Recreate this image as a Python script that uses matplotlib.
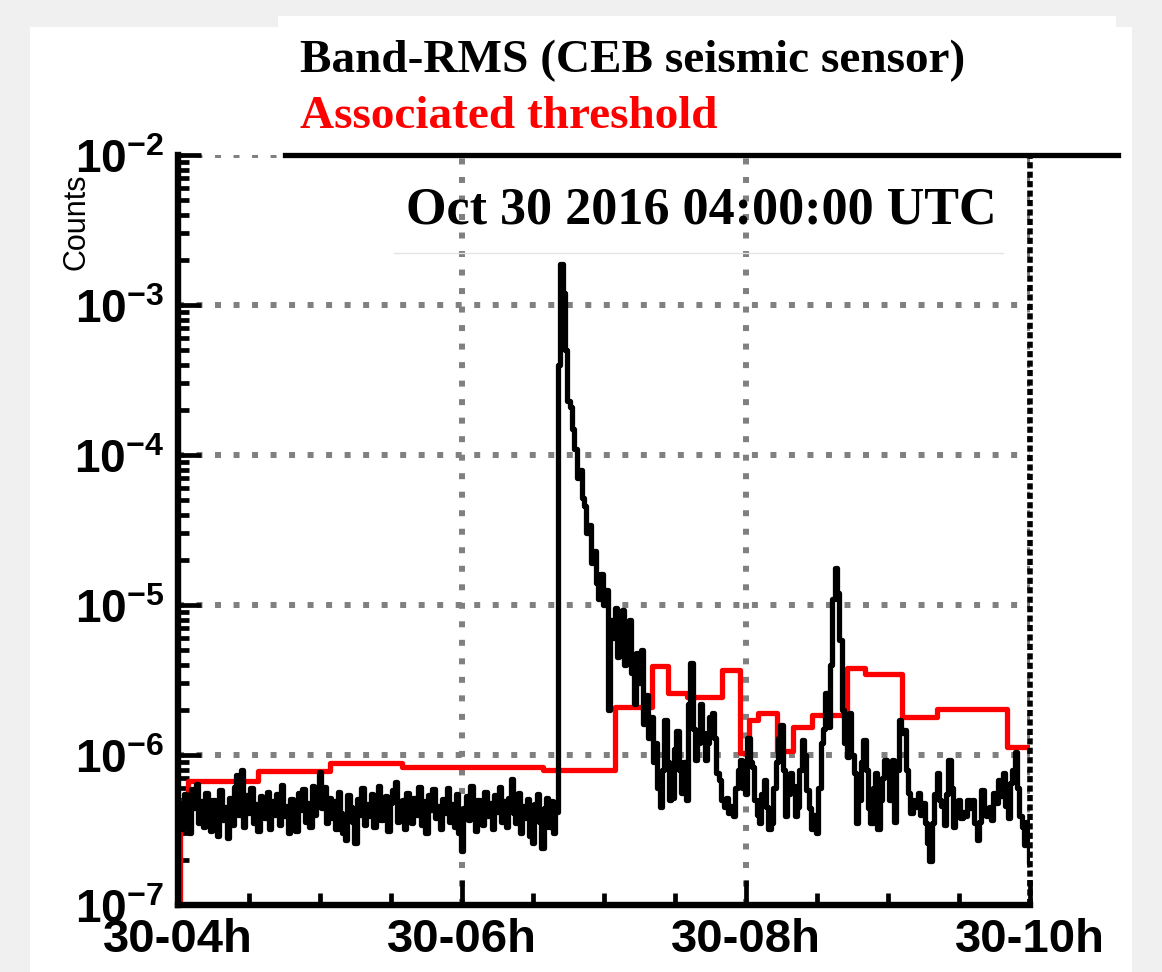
import numpy as np
import matplotlib.pyplot as plt
from matplotlib.patches import Rectangle
from matplotlib.lines import Line2D
from matplotlib.ticker import FixedLocator, NullFormatter

plt.rcParams['mathtext.fontset'] = 'custom'
plt.rcParams['mathtext.rm'] = 'Liberation Sans:bold'
plt.rcParams['mathtext.bf'] = 'Liberation Sans:bold'
plt.rcParams['mathtext.it'] = 'Liberation Sans:bold'

#==============================================================================
# data : band-RMS, 1 valeur par minute de 04:00 a 10:00 UTC (unite 1e-7 counts)
#==============================================================================
rms_e7 = [
    # 04:00 - 06:40 (bruit de fond)
    3.6, 4.8, 3.2, 5.5, 4.1, 3.0, 5.9, 4.4, 6.4, 3.5,
    4.9, 3.3, 5.6, 4.2, 3.1, 5.0, 4.6, 2.9, 5.8, 3.7,
    4.5, 2.8, 5.2, 3.4, 6.1, 7.4, 4.0, 7.9, 3.3, 5.4,
    4.1, 6.0, 3.5, 4.7, 3.1, 5.3, 4.4, 3.8, 5.7, 3.2,
    4.9, 4.0, 5.5, 3.4, 6.3, 3.9, 4.6, 3.0, 5.1, 4.2,
    3.1, 5.6, 4.3, 5.9, 3.6, 4.8, 3.3, 6.2, 4.0, 5.0,
    7.7, 4.4, 6.1, 3.5, 5.2, 3.8, 4.9, 3.2, 5.7, 4.1,
    3.0, 2.7, 5.4, 4.5, 3.6, 2.6, 5.1, 4.0, 6.0, 3.4,
    4.7, 3.9, 5.5, 3.3, 4.6, 6.2, 3.7, 4.3, 5.3, 3.1,
    4.8, 5.8, 6.6, 3.6, 4.2, 5.0, 3.2, 5.6, 4.4, 3.5,
    5.2, 4.0, 6.1, 3.4, 4.9, 3.0, 5.4, 4.3, 5.9, 3.8,
    4.6, 3.2, 5.1, 4.1, 6.0, 3.6, 4.7, 3.3, 5.5, 3.0,
    2.3, 4.4, 5.3, 3.7, 6.2, 4.0, 3.1, 5.0, 4.5, 3.4,
    5.7, 3.9, 4.8, 3.2, 5.4, 4.2, 6.1, 3.6, 4.9, 3.3,
    5.2, 6.9, 4.1, 3.5, 5.6, 3.0, 4.6, 3.8, 5.1, 2.9,
    2.6, 4.7, 5.5, 3.6, 2.4, 4.4, 5.2, 3.3, 4.9, 3.0, 4.2,
    # 06:41 - seisme
    4000, 18900, 12000, 5000, 2300, 2100, 1500, 1100, 700, 800,
    520, 460, 300, 340, 190, 230, 140, 110, 160, 100,
    125, 20, 80, 60, 95, 45, 70, 92, 40, 65,
    80, 35, 22, 48, 30, 50, 16, 25, 13, 18,
    9, 12, 6, 4.5, 8, 17, 9, 5, 5.2, 11,
    14.5, 8, 5.6, 9, 5.0, 22, 41, 15, 9.3, 12,
    22, 14, 9.3, 12, 18, 19, 13, 7.6, 6.8, 5.0,
    4.5, 5.2, 4.1, 4.6, 3.9, 6, 8, 9.3, 6, 5.5,
    13, 9, 8.3, 5, 4, 3.5, 5.5, 6.8, 4.5, 3.2,
    3.5, 6, 9, 13, 15.8, 8, 3.9, 5.5, 7.6, 6.2,
    3.9, 4.5, 8, 12.6, 10, 5.8, 4.4, 3.2, 4, 3.0,
    6, 12, 15, 26, 15.4, 40, 110, 177, 120, 58,
    20, 12, 9.7, 19, 10, 7.6, 3.5, 5, 9, 12.6,
    8, 4.4, 3.5, 6, 7.6, 3.2, 5, 7, 9.3, 7.6,
    5, 9.3, 3.6, 8, 17, 14, 14.7, 8, 5.6, 4.1,
    5, 4.5, 5.6, 4, 4.8, 3.5, 2.6, 1.95, 3.5, 5.5,
    7.6, 5, 4.6, 3.4, 5.5, 9.3, 6, 3.3, 4.5, 5,
    3.8, 4.2, 3.9, 5, 4.4, 5, 3.5, 2.7, 3.6, 5.8,
    4.3, 3.9, 4.5, 3.7, 5.6, 4.8, 6.8, 5.3, 7.6, 4.6,
    3.8, 6.5, 8, 10.5, 6, 3.9, 3.3, 2.5, 3.6, 1.9,
]

# seuil associe : debut de chaque palier (heures UTC) et valeur
seuil_debut_h = [4.0, 4.014, 4.070, 4.563, 5.070, 5.577, 6.570, 7.077, 7.338,
                 7.451, 7.585, 7.831, 7.958, 8.021, 8.085, 8.218, 8.331, 8.465,
                 8.711, 8.838, 9.099, 9.345, 9.838]
seuil_val = [5e-8, 4.9e-7, 6.7e-7, 7.8e-7, 8.85e-7, 8.3e-7, 7.9e-7, 2.09e-6, 3.92e-6,
             2.59e-6, 2.44e-6, 3.69e-6, 1.03e-6, 1.71e-6, 1.9e-6, 1.06e-6, 1.54e-6, 1.85e-6,
             3.8e-6, 3.47e-6, 1.79e-6, 2.03e-6, 1.13e-6]
seuil_fin_h = 10.0

xticks_h = [4, 6, 8, 10]
xticks_lab = ['30-04h', '30-06h', '30-08h', '30-10h']
xminor_h = [4.5, 5, 5.5, 6.5, 7, 7.5, 8.5, 9, 9.5]
yticks = [1e-7, 1e-6, 1e-5, 1e-4, 1e-3, 1e-2]
yticks_lab = [r'$\mathbf{10^{-7}}$', r'$\mathbf{10^{-6}}$', r'$\mathbf{10^{-5}}$',
              r'$\mathbf{10^{-4}}$', r'$\mathbf{10^{-3}}$', r'$\mathbf{10^{-2}}$']

#==============================================================================
# figure
#==============================================================================
W, H = 1162, 972
fig = plt.figure(figsize=(W / 100, H / 100), dpi=100, facecolor='#f0f0f0')

def fx(px):
    return px / W

def fy(py):
    return 1 - py / H

# panneaux blancs
fig.patches.append(Rectangle((fx(30), 0), fx(1132) - fx(30), fy(27), transform=fig.transFigure,
                             facecolor='white', edgecolor='none', zorder=-10))
fig.patches.append(Rectangle((fx(278), fy(155)), fx(1116) - fx(278), fy(16) - fy(155),
                             transform=fig.transFigure, facecolor='white', edgecolor='none', zorder=-10))

ax = fig.add_axes([fx(178), fy(905), fx(1030) - fx(178), fy(155) - fy(905)])
ax.set_facecolor('white')

t_h = 4 + np.arange(len(rms_e7)) / 60.0
rms = np.array(rms_e7) * 1e-7

# seuil en escalier
x_seuil = seuil_debut_h + [seuil_fin_h]
y_seuil = seuil_val + [seuil_val[-1]]
ax.plot(x_seuil, y_seuil, drawstyle='steps-post', color='#ff0000', linewidth=3.8, zorder=3)
ax.plot(t_h, rms, drawstyle='steps-mid', color='black', linewidth=3.8, zorder=4)

ax.set_yscale('log')
ax.set_ylim(1e-7, 1e-2)
ax.set_xlim(4, 10)

# grille pointillee grise
grid_style = dict(color='#808080', linewidth=4.3, linestyle=(0, (1.0, 2.1)), zorder=1)
for yv in yticks[1:]:
    ax.axhline(yv, **grid_style)
for xv in xticks_h[1:]:
    ax.axvline(xv, **grid_style)

# axes
ax.spines['top'].set_visible(False)
ax.spines['right'].set_visible(False)
ax.spines['left'].set_linewidth(4.6)
ax.spines['bottom'].set_linewidth(4.6)
for s in ax.spines.values():
    s.set_zorder(5)
# bord droit en tirets noirs sur la grille grise
ax.axvline(10, color='black', linewidth=4.0, linestyle=(0, (1.1, 0.6)), zorder=6, clip_on=False)

ax.xaxis.set_major_locator(FixedLocator(xticks_h))
ax.set_xticklabels(xticks_lab)
ax.xaxis.set_minor_locator(FixedLocator(xminor_h))
ax.yaxis.set_major_locator(FixedLocator(yticks))
ax.set_yticklabels(yticks_lab)
ax.yaxis.set_minor_formatter(NullFormatter())

ax.tick_params(axis='x', which='major', direction='in', length=18, width=3.4, pad=9,
               labelsize=34, top=False)
ax.tick_params(axis='x', which='minor', direction='in', length=8.6, width=3.4, top=False)
ax.tick_params(axis='y', which='major', direction='in', length=16.5, width=3.4, pad=10,
               labelsize=33, right=False)
ax.tick_params(axis='y', which='minor', direction='in', length=8, width=3.4, right=False)
for lab in ax.get_xticklabels():
    lab.set_family('Liberation Sans')
    lab.set_weight('bold')

# trait noir du haut
fig.add_artist(Line2D([fx(285), fx(1118)], [fy(155), fy(155)], color='black',
                      linewidth=3.8, transform=fig.transFigure, zorder=10))
# trait gris clair sous la date
fig.add_artist(Line2D([fx(394), fx(1003)], [fy(253), fy(253)], color='#e4e4e4',
                      linewidth=1, transform=fig.transFigure, zorder=10))

# textes
fig.text(fx(300), fy(72), 'Band-RMS (CEB seismic sensor)', family='Liberation Serif',
         weight='bold', fontsize=34, color='black', va='baseline', ha='left')
fig.text(fx(300), fy(128), 'Associated threshold', family='Liberation Serif',
         weight='bold', fontsize=34, color='#ff0000', va='baseline', ha='left')
fig.text(fx(406), fy(223), 'Oct 30 2016 04:00:00 UTC', family='Liberation Serif',
         weight='bold', fontsize=37.5, color='black', va='baseline', ha='left', zorder=10)
fig.text(fx(76), fy(222), 'Counts', family='Liberation Sans', fontsize=22,
         rotation=90, ha='center', va='center')

plt.savefig('out.png', dpi=100, facecolor=fig.get_facecolor())
